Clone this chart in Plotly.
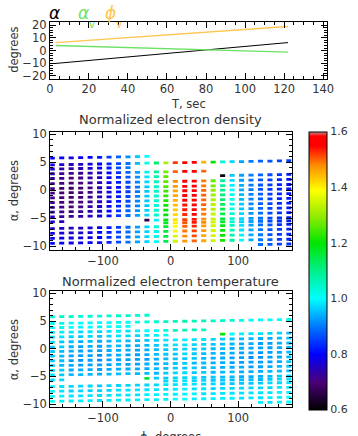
import plotly.graph_objects as go

# ---------------- data ----------------
# top panel: angles vs time
t_black = [3, 40, 80, 100, 106, 122]
a_black = [-10.2, -5.0, 0.6, 3.4, 4.0, 6.3]
t_orange = [3, 60, 122]
a_orange = [6.2, 12.6, 19.0]
t_green = [3, 60, 122]
a_green = [4.0, 1.6, -1.2]

# scan geometry (lower panels)
phi_cols = [-175, -161, -147, -133, -119, -105, -91, -77, -63, -49, -35, -21, -7,
            7, 21, 35, 49, 63, 77, 91, 105, 119, 133, 147, 161, 175]
row_alpha_left = [5.75, 4.55, 3.8, 2.95, 2.1, 1.2, 0.3, -0.5, -1.35, -2.2, -3.05,
                  -3.9, -4.75, -5.65, -6.2, -6.85, -7.7, -8.6, -9.5, -10.35]
row_alpha_right = [6.5, 5.3, 4.55, 3.7, 2.85, 1.95, 1.05, 0.25, -0.6, -1.45, -2.3,
                   -3.15, -4.0, -4.9, -5.45, -6.1, -6.95, -7.85, -8.75, -9.6]

N = None
# normalized electron density (x100), one list per row, None = no data
density = [
    [80, 79, 78, 78, 80, 82, 85, 88, 92, 96, 100, N, N, N, N, N, N, N, N, N, N, N, N, N, N, N],
    [78, 76, 75, 76, 78, 80, 83, 86, 90, 95, 102, 112, 132, 152, 158, 157, 145, 120, 104, 97, 93, 90, 88, 87, 86, 85],
    [76, 74, 73, 74, 76, 79, 82, 86, 90, N, N, N, N, N, N, N, N, N, N, N, N, N, N, N, N, N],
    [74, 72, 71, 72, 74, 77, 80, 84, 88, 93, 99, 108, 128, 150, 158, 158, 150, N, N, N, N, N, N, N, N, N],
    [73, 71, 70, 71, 73, 76, 79, 83, 87, 92, 98, 107, 126, N, N, N, N, N, 62, 96, 93, 90, 88, 86, 84, 82],
    [72, 70, 69, 70, 72, 75, 78, 82, 86, 91, 97, 106, 126, 148, 157, 158, 149, 127, 108, 98, 93, 90, 87, 85, 83, 81],
    [71, 69, 68, 69, 71, 74, 77, 81, 85, 90, 96, 105, 125, 147, 156, 157, 149, 128, 109, 99, 94, 90, 87, 85, 83, 81],
    [71, 69, 68, 69, 71, 74, 77, 81, 85, 90, 96, 105, 124, 146, 156, 157, 150, 130, 110, 100, 94, 90, 87, 85, 83, 81],
    [72, 70, 69, 70, 72, 75, 78, 82, 86, 91, 96, 104, 123, 146, 155, 157, 150, 131, 111, 101, 95, 91, 88, 85, 83, 81],
    [72, 70, 69, 70, 72, 75, 78, 82, 86, 91, 96, 104, 122, 145, 155, 156, 150, 132, 112, 102, 95, 91, 88, 85, 83, 82],
    [73, 71, 70, 71, 73, 76, 79, 83, 87, 91, 96, 104, 121, 144, 154, 156, 150, 133, 113, 102, 96, 91, 88, 86, 84, 82],
    [74, 72, 71, 72, 74, 77, 80, 84, 88, 92, 97, 104, 120, 143, 154, 155, 149, 133, 114, 103, 96, 92, 89, 86, 84, 82],
    [75, 73, 72, 73, 75, 78, 81, 85, 89, 93, 97, 104, 120, 142, 153, 155, 149, 134, 115, 104, 97, 92, 89, 86, 84, 82],
    [76, 75, N, N, N, N, N, N, N, N, 66, 99, 119, 141, 152, 154, 148, 134, 116, 104, 97, 92, 89, 86, 84, 82],
    [N, N, N, N, N, N, N, N, N, N, N, N, 118, 140, 151, 154, 148, 135, 117, 105, 97, 93, 89, 86, 84, 82],
    [77, 76, 75, 75, 77, 79, 82, 85, 89, 93, 97, 103, 117, 139, 150, 153, 147, 135, 118, 105, 98, 93, 89, 87, 84, 82],
    [78, 77, 76, 76, 78, 80, 82, 85, 89, 93, 97, 102, 116, 138, 149, 152, 147, 135, 119, 106, 98, 93, 90, 87, 85, 83],
    [79, 78, 77, 77, 78, 80, 83, 86, 89, 93, 97, 102, 115, 136, 148, 151, 146, 135, 120, 107, 99, 94, 90, 87, 85, 83],
    [80, 79, 78, 78, 79, 81, 83, 86, 89, 93, 97, 102, 114, 135, 147, 150, 146, 135, 121, 108, 100, 94, 90, 88, 85, 83],
    [N, N, N, N, N, N, N, N, N, N, N, N, N, N, N, N, N, N, N, N, N, N, 89, 87, 85, 84],
]
# normalized electron temperature (x100)
temperature = [
    [104, 105, 104, 103, 104, 103, 104, 105, 104, 103, 104, N, N, N, N, N, N, N, N, N, N, N, N, N, N, N],
    [101, 102, 101, 100, 101, 100, 101, 102, 101, 102, 103, 104, 105, 106, 107, 106, 106, 105, 104, 103, 102, 101, 101, 100, 100, 101],
    [100, 101, 100, 99, 100, 99, 100, 101, 100, N, N, N, N, N, N, N, N, N, N, N, N, N, N, N, N, N],
    [98, 99, 98, 97, 98, 97, 98, 99, 98, 99, 100, 101, 103, 105, 106, 106, 105, N, N, N, N, N, N, N, N, N],
    [97, 98, 97, 96, 97, 96, 97, 98, 97, 97, 98, 99, 100, N, N, N, N, N, 120, 100, 99, 98, 98, 97, 97, 96],
    [97, 96, 95, 94, 95, 94, 95, 96, 95, 95, 96, 97, 98, 99, 99, 98, 98, 97, 96, 96, 95, 95, 94, 94, 95, 96],
    [96, 96, 94, 93, 94, 93, 94, 95, 94, 94, 95, 96, 97, 98, 98, 97, 97, 96, 95, 95, 94, 94, 93, 93, 94, 95],
    [96, 95, 94, 93, 93, 93, 94, 94, 94, 93, 94, 95, 96, 97, 97, 96, 96, 95, 95, 94, 94, 93, 93, 93, 94, 95],
    [96, 95, 93, 93, 93, 92, 93, 94, 93, 93, 94, 95, 96, 96, 97, 96, 95, 95, 94, 94, 93, 93, 92, 93, 94, 95],
    [96, 95, 93, 92, 93, 92, 93, 93, 93, 93, 93, 94, 95, 96, 96, 96, 95, 94, 94, 93, 93, 92, 92, 93, 94, 95],
    [97, 95, 94, 93, 93, 93, 93, 94, 93, 93, 94, 94, 95, 96, 96, 95, 95, 94, 94, 93, 93, 93, 93, 93, 94, 96],
    [97, 96, 94, 94, 94, 93, 94, 94, 94, 94, 94, 95, 95, 96, 96, 96, 95, 95, 94, 94, 94, 93, 93, 94, 95, 96],
    [98, 96, 95, 95, 95, 94, 95, 95, 95, 95, 95, 95, 96, 97, 97, 96, 96, 95, 95, 95, 94, 94, 94, 95, 95, 96],
    [98, 97, N, N, N, N, N, N, N, N, 116, 96, 96, 97, 97, 97, 96, 96, 95, 95, 94, 94, 94, 95, 96, 97],
    [N, N, N, N, N, N, N, N, N, N, N, N, 97, 98, 98, 97, 97, 96, 96, 95, 95, 95, 95, 96, 97, 98],
    [99, 98, 97, 97, 97, 96, 97, 97, 97, 97, 97, 97, 98, 98, 98, 98, 97, 97, 96, 96, 96, 96, 96, 97, 97, 98],
    [99, 98, 97, 97, 97, 97, 97, 98, 98, 98, 98, 98, 98, 99, 99, 98, 98, 97, 97, 97, 97, 97, 97, 97, 98, 99],
    [100, 99, 98, 98, 98, 98, 98, 98, 98, 98, 99, 99, 99, 99, 99, 99, 98, 98, 98, 98, 98, 98, 98, 98, 99, 99],
    [100, 99, 99, 99, 99, 98, 99, 99, 99, 99, 99, 99, 99, 100, 100, 99, 99, 99, 99, 99, 98, 98, 98, 99, 99, 100],
    [N, N, N, N, N, N, N, N, N, N, N, N, N, N, N, N, N, N, N, N, N, N, 99, 98, 99, 100],
]

cb_ticks = [0.6, 0.8, 1.0, 1.2, 1.4, 1.6]

# ---------------- style ----------------
W, H = 358, 436
FONT = "DejaVu Sans"
TXT = "#333333"
rainbow = [
    [0.00, "rgb(0,0,0)"],
    [0.10, "rgb(75,0,120)"],
    [0.20, "rgb(0,0,255)"],
    [0.30, "rgb(0,120,255)"],
    [0.40, "rgb(0,255,255)"],
    [0.50, "rgb(0,240,140)"],
    [0.60, "rgb(0,230,0)"],
    [0.70, "rgb(150,235,0)"],
    [0.79, "rgb(255,255,0)"],
    [0.88, "rgb(255,140,0)"],
    [0.95, "rgb(255,0,0)"],
    [0.985, "rgb(255,0,0)"],
    [1.00, "rgb(190,140,140)"],
]


def px_x(p):
    return p / W


def px_y(p):
    return 1 - p / H


def dashes(values):
    xs, ys, cs = [], [], []
    for r, row in enumerate(values):
        a0, a1 = row_alpha_left[r], row_alpha_right[r]
        for k, v in enumerate(row):
            if v is None:
                continue
            f = (phi_cols[k] + 180) / 360.0
            xs.append(phi_cols[k])
            ys.append(a0 + (a1 - a0) * f)
            cs.append(v / 100.0)
    return xs, ys, cs


fig = go.Figure()

# top panel lines
fig.add_trace(go.Scatter(x=t_black, y=a_black, mode="lines", line=dict(color="black", width=1),
                         xaxis="x", yaxis="y", showlegend=False))
fig.add_trace(go.Scatter(x=t_orange, y=a_orange, mode="lines", line=dict(color="rgb(255,198,80)", width=1.3),
                         xaxis="x", yaxis="y", showlegend=False))
fig.add_trace(go.Scatter(x=t_green, y=a_green, mode="lines", line=dict(color="rgb(110,225,100)", width=1.3),
                         xaxis="x", yaxis="y", showlegend=False))

for vals, xa, ya, show in [(density, "x2", "y2", True), (temperature, "x3", "y3", False)]:
    xs, ys, cs = dashes(vals)
    marker = dict(symbol="line-ew-open", size=3.6, color=cs, colorscale=rainbow, cmin=0.6, cmax=1.6,
                  line=dict(width=2.8), showscale=show)
    if show:
        marker["colorbar"] = dict(
            x=px_x(315), xanchor="left", thickness=18, len=283 / H, lenmode="fraction",
            y=px_y(271.5), yanchor="middle", outlinewidth=1, outlinecolor="black",
            tickvals=cb_ticks, ticktext=["%.1f" % v for v in cb_ticks], ticks="",
            tickfont=dict(family=FONT, size=11, color=TXT), ypad=0, xpad=0,
        )
    fig.add_trace(go.Scatter(x=xs, y=ys, mode="markers", marker=marker, xaxis=xa, yaxis=ya,
                             showlegend=False, hoverinfo="skip"))

axis_common = dict(showline=True, linecolor="black", linewidth=1, mirror="ticks", ticks="inside",
                   ticklen=6, tickcolor="black", showgrid=False, zeroline=False,
                   tickfont=dict(family=FONT, size=11.5, color=TXT))
minor_common = dict(ticks="inside", ticklen=3, tickcolor="black", showgrid=False)

fig.update_layout(
    width=W, height=H, margin=dict(l=0, r=0, t=0, b=0), paper_bgcolor="white", plot_bgcolor="white",
    xaxis=dict(domain=[px_x(47.3), px_x(333.3)], range=[0, 142], dtick=20, anchor="y",
               minor=dict(dtick=5, **minor_common), **axis_common),
    yaxis=dict(domain=[px_y(76), px_y(18.3)], range=[-22.2, 22.6], dtick=10, anchor="x",
               minor=dict(dtick=2, **minor_common), **axis_common),
    xaxis2=dict(domain=[px_x(47.7), px_x(296.7)], range=[-178, 179], tickvals=[-100, 0, 100],
                ticktext=["\u2212100", "0", "100"], anchor="y2",
                minor=dict(dtick=20, **minor_common), **axis_common),
    yaxis2=dict(domain=[px_y(251), px_y(130)], range=[-10.75, 10.5], tickvals=[-10, -5, 0, 5, 10],
                ticktext=["\u221210", "\u22125", "0", "5", "10"], anchor="x2",
                minor=dict(dtick=1, **minor_common), **axis_common),
    xaxis3=dict(domain=[px_x(47.7), px_x(296.7)], range=[-178, 179], tickvals=[-100, 0, 100],
                ticktext=["\u2212100", "0", "100"], anchor="y3",
                minor=dict(dtick=20, **minor_common), **axis_common),
    yaxis3=dict(domain=[px_y(411), px_y(292)], range=[-10.6, 10.5], tickvals=[-10, -5, 0, 5, 10],
                ticktext=["\u221210", "\u22125", "0", "5", "10"], anchor="x3",
                minor=dict(dtick=1, **minor_common), **axis_common),
)


def ann(text, x, y, size=12, color=TXT, rot=0, xanchor="center", yanchor="middle", italic=False):
    fig.add_annotation(text=text, x=px_x(x), y=px_y(y), xref="paper", yref="paper", showarrow=False,
                       xanchor=xanchor, yanchor=yanchor, textangle=rot,
                       font=dict(family=FONT, size=size, color=color, style="italic" if italic else "normal"))


ann("degrees", 10, 47, size=11.5, rot=-90)
ann("T, sec", 190, 102, size=11.5)
ann("Normalized electron density", 172, 118, size=13)
ann("\u03b1, degrees", 10, 190, size=11.5, rot=-90)
ann("Normalized electron temperature", 172, 283, size=13)
ann("\u03b1, degrees", 10, 352, size=11.5, rot=-90)
ann("\u03d5, degrees", 172, 432, size=11.5, yanchor="top")
ann("\u03b1", 52, 9, size=17, color="black", italic=True)
ann("\u03b1", 82, 9, size=17, color="rgb(110,225,100)", italic=True)
ann("v", 91, 21, size=10, color="rgb(110,225,100)")
ann("\u03d5", 110, 9, size=17, color="rgb(255,198,80)", italic=True)
ann("v", 119, 21, size=10, color="rgb(255,198,80)")

fig.write_html("out.html")
